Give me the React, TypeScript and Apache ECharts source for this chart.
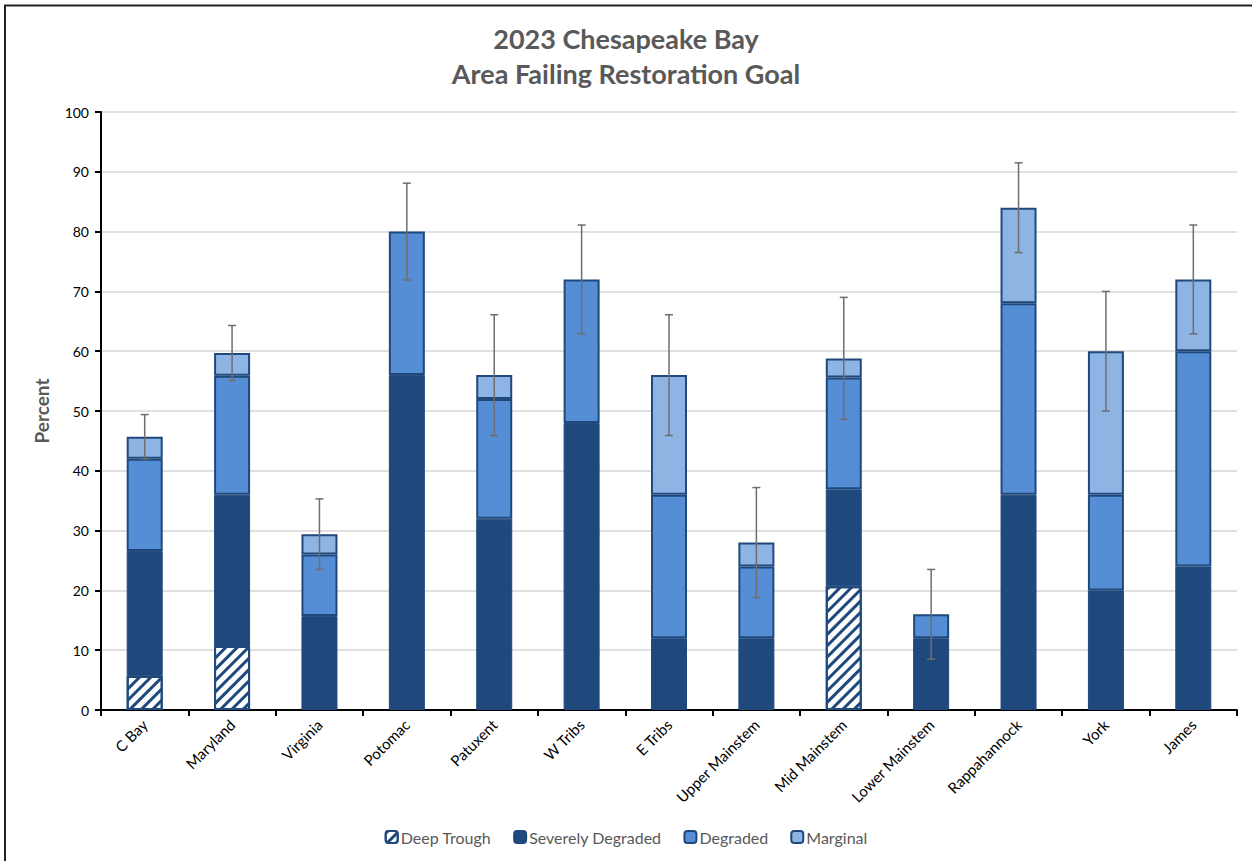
import React, { useEffect, useRef } from "react";
import * as echarts from "echarts";

const categories = [
  "C Bay", "Maryland", "Virginia", "Potomac", "Patuxent", "W Tribs", "E Tribs",
  "Upper Mainstem", "Mid Mainstem", "Lower Mainstem", "Rappahannock", "York", "James",
];
const deepTrough = [5.7, 10.7, 0, 0, 0, 0, 0, 0, 20.7, 0, 0, 0, 0];
const severelyDegraded = [20.9, 25.3, 15.7, 56, 32, 48, 12, 12, 16.2, 12, 36, 20, 24];
const degraded = [15.4, 19.9, 10.3, 24, 20, 24, 24, 12, 18.7, 4, 32, 16, 36];
const marginal = [3.7, 3.8, 3.4, 0, 4, 0, 20, 4, 3.2, 0, 16, 24, 12];
const errorHalf = [3.7, 4.6, 5.9, 8.1, 10.1, 9.1, 10.1, 9.2, 10.2, 7.5, 7.5, 10, 9.1];
const yTicks = [0, 10, 20, 30, 40, 50, 60, 70, 80, 90, 100];

const FONT = "Lato";
const DARK = "#1F497D";

export default function App() {
  const ref = useRef<HTMLDivElement>(null);
  useEffect(() => {
    if (!ref.current) return;
    const chart = echarts.init(ref.current, null, { renderer: "svg" });
    const nz = (a: number[]) => a.map((v) => (v === 0 ? null : v));
    const totals = categories.map(
      (_, i) => deepTrough[i] + severelyDegraded[i] + degraded[i] + marginal[i]
    );
    const errData = categories.map((_, i) => [
      i,
      totals[i],
      totals[i] - errorHalf[i],
      totals[i] + errorHalf[i],
    ]);
    const barBase = {
      type: "bar",
      stack: "total",
      barWidth: 36,
    };
    chart.setOption({
      animation: false,
      textStyle: { fontFamily: FONT },
      title: {
        text: "2023 Chesapeake Bay\nArea Failing Restoration Goal",
        left: "center",
        top: 16,
        textStyle: {
          fontFamily: FONT,
          fontSize: 27,
          fontWeight: "bold",
          color: "#595959",
          lineHeight: 35,
        },
      },
      graphic: [
        {
          type: "polyline",
          shape: { points: [[5, 861], [5, 5.5], [1252, 5.5]] },
          style: { stroke: "#222", lineWidth: 2, fill: "none" },
          silent: true,
        },
      ],
      legend: {
        data: ["Deep Trough", "Severely Degraded", "Degraded", "Marginal"],
        left: "center",
        top: 824,
        itemWidth: 12,
        itemHeight: 12,
        itemGap: 22,
        textStyle: { fontFamily: FONT, fontSize: 16, color: "#595959", padding: [0, 0, 0, -2] },
      },
      grid: { left: 101, right: 15, top: 112, bottom: 151 },
      xAxis: {
        type: "category",
        data: categories,
        axisLine: { lineStyle: { color: "#000", width: 2 } },
        axisTick: { show: true, length: 6, lineStyle: { color: "#000", width: 2 } },
        axisLabel: { rotate: 45, color: "#000", fontSize: 15, fontFamily: FONT, margin: 12 },
      },
      yAxis: {
        type: "value",
        min: yTicks[0],
        max: yTicks[yTicks.length - 1],
        interval: 10,
        name: "Percent",
        nameLocation: "middle",
        nameGap: 50,
        nameTextStyle: { fontFamily: FONT, fontSize: 19, fontWeight: "bold", color: "#595959" },
        axisLine: { show: true, lineStyle: { color: "#000", width: 2 } },
        axisTick: { show: true, length: 6, lineStyle: { color: "#000", width: 2 } },
        axisLabel: { color: "#000", fontSize: 14, fontFamily: FONT, margin: 12 },
        splitLine: { lineStyle: { color: "#d6d6d6", width: 1.5 } },
      },
      series: [
        {
          ...barBase,
          name: "Deep Trough",
          data: nz(deepTrough),
          itemStyle: {
            color: "#ffffff",
            borderColor: DARK,
            borderWidth: 2,
            decal: {
              symbol: "rect",
              symbolSize: 1,
              color: DARK,
              backgroundColor: "#ffffff",
              dashArrayX: [1, 0],
              dashArrayY: [3, 5],
              rotation: -Math.PI / 4,
            },
          },
        },
        {
          ...barBase,
          name: "Severely Degraded",
          data: nz(severelyDegraded),
          itemStyle: { color: DARK, borderColor: DARK, borderWidth: 1 },
        },
        {
          ...barBase,
          name: "Degraded",
          data: nz(degraded),
          itemStyle: { color: "#558ED5", borderColor: DARK, borderWidth: 2 },
        },
        {
          ...barBase,
          name: "Marginal",
          data: nz(marginal),
          itemStyle: { color: "#8EB4E3", borderColor: DARK, borderWidth: 2 },
        },
        {
          type: "custom",
          name: "Error",
          data: errData,
          z: 10,
          renderItem: (params: any, api: any) => {
            const x = api.value(0);
            const lo = api.coord([x, api.value(2)]);
            const hi = api.coord([x, api.value(3)]);
            const cap = 4;
            const style = { stroke: "#6e6e6e", lineWidth: 1.5 };
            return {
              type: "group",
              children: [
                { type: "line", shape: { x1: lo[0], y1: lo[1], x2: hi[0], y2: hi[1] }, style },
                { type: "line", shape: { x1: lo[0] - cap, y1: lo[1], x2: lo[0] + cap, y2: lo[1] }, style },
                { type: "line", shape: { x1: hi[0] - cap, y1: hi[1], x2: hi[0] + cap, y2: hi[1] }, style },
              ],
            };
          },
        },
      ],
    });
    return () => chart.dispose();
  }, []);
  return (
    <div
      ref={ref}
      style={{ position: "absolute", left: 0, top: 0, width: 1252, height: 861, background: "#fff" }}
    />
  );
}
